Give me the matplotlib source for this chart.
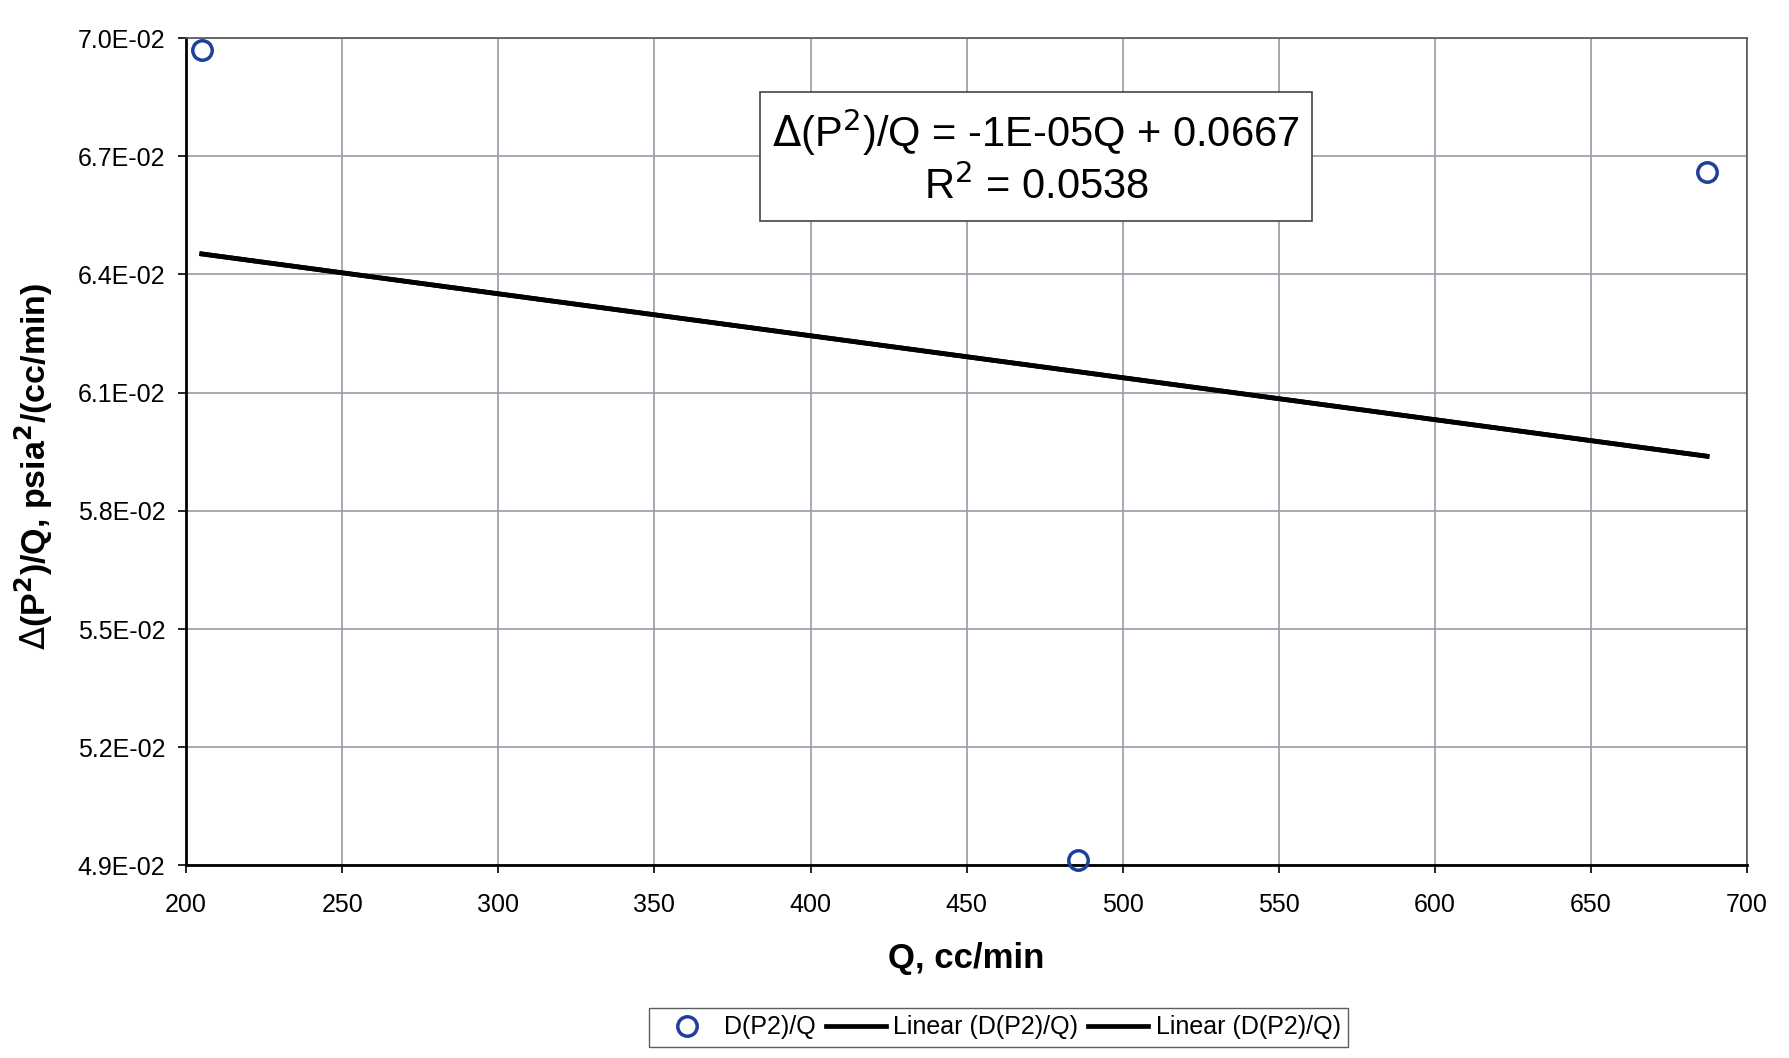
import numpy as np
from matplotlib import pyplot as plt
from matplotlib.ticker import FuncFormatter

plt.rcParams['font.family'] = ['Liberation Sans', 'DejaVu Sans']

# data
q = [205.0, 485.7, 687.2]
dp2_q = [0.0697, 0.04914, 0.0666]

x_ticks = [200, 250, 300, 350, 400, 450, 500, 550, 600, 650, 700]
y_ticks = [0.049, 0.052, 0.055, 0.058, 0.061, 0.064, 0.067, 0.070]

slope, intercept = np.polyfit(q, dp2_q, 1)
q_fit = np.array([min(q), max(q)])
fit = slope * q_fit + intercept

fig = plt.figure(figsize=(17.9, 10.58), dpi=100)
ax = fig.add_axes([0.104, 0.182, 0.872, 0.782])

ax.plot(q, dp2_q, 'o', markersize=14, markerfacecolor='none',
        markeredgecolor='#1f3f9a', markeredgewidth=2.5, label='D(P2)/Q',
        clip_on=False, zorder=5)
ax.plot(q_fit, fit, '-', color='black', linewidth=3.4, label='Linear (D(P2)/Q)')
ax.plot(q_fit, fit, '-', color='black', linewidth=3.4, label='Linear (D(P2)/Q)')

ax.set_xlim(200, 700)
ax.set_ylim(0.049, 0.070)
ax.set_xticks(x_ticks)
ax.set_yticks(y_ticks)
ax.yaxis.set_major_formatter(FuncFormatter(lambda v, p: f'{v:.1E}'))
ax.tick_params(labelsize=18, length=6, width=1.2, direction='out')
ax.tick_params(axis='x', pad=14)
ax.tick_params(axis='y', pad=9)
ax.grid(True, color='#9a9aa8', linewidth=1.2)
ax.set_axisbelow(True)

for side in ['left', 'bottom']:
    ax.spines[side].set_linewidth(2.0)
    ax.spines[side].set_color('black')
for side in ['top', 'right']:
    ax.spines[side].set_linewidth(1.2)
    ax.spines[side].set_color('#555555')

ax.set_xlabel('Q, cc/min', fontsize=25, fontweight='bold', labelpad=18)
ax.set_ylabel(r'$\Delta$(P$^\mathbf{2}$)/Q, psia$^\mathbf{2}$/(cc/min)', fontsize=24.5,
              fontweight='bold')
ax.yaxis.set_label_coords(-0.084, 0.482)

ax.text(0.5445, 0.856, '$\\Delta$(P$^2$)/Q = -1E-05Q + 0.0667\nR$^2$ = 0.0538',
        transform=ax.transAxes, ha='center', va='center', fontsize=30,
        linespacing=1.25,
        bbox=dict(boxstyle='square,pad=0.3', facecolor='white',
                  edgecolor='#444444', linewidth=1.2))

fig.legend(loc='center', bbox_to_anchor=(0.558, 0.029), ncol=3, fontsize=18,
           frameon=True, fancybox=False, edgecolor='#333333',
           handlelength=2.4, handletextpad=0.3, columnspacing=0.4,
           borderpad=0.3)

fig.savefig('out.png', dpi=100)
plt.close(fig)
